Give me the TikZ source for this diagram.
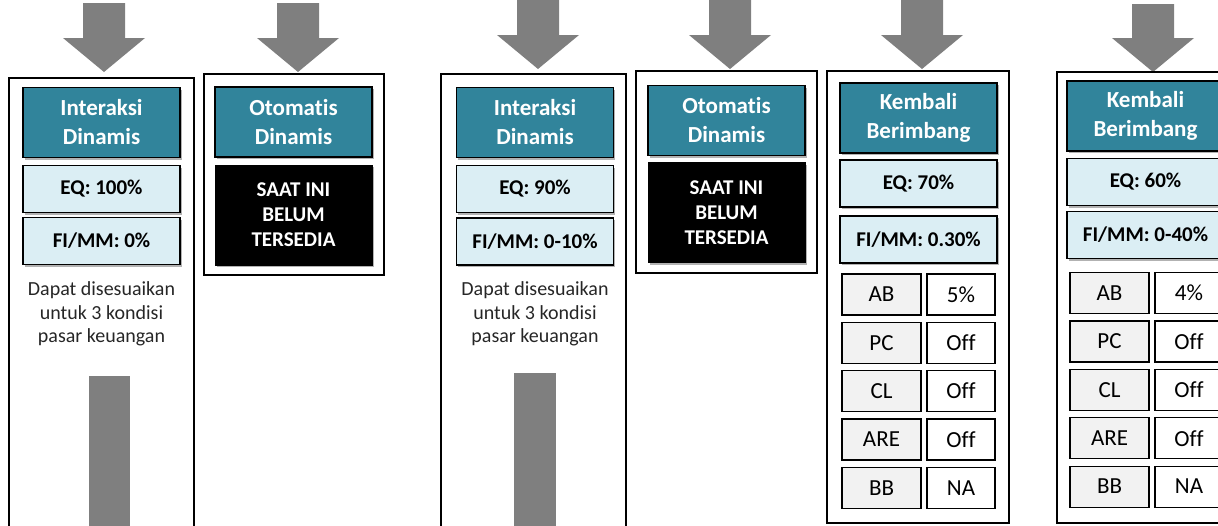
\documentclass[tikz,border=0pt]{standalone}
\usepackage{fontspec}
\setmainfont{Carlito}[Ligatures=NoCommon]
\usetikzlibrary{shadows}
\definecolor{headteal}{HTML}{31849B}
\definecolor{paleblue}{HTML}{DBEEF4}
\definecolor{cellgray}{HTML}{F2F2F2}
\definecolor{arrowgray}{HTML}{7F7F7F}

\begin{document}
\begin{tikzpicture}[x=1pt,y=-1pt,
  panel/.style={draw=black,line width=1.1pt},
  boxshadow/.style={drop shadow={shadow xshift=1.5pt,shadow yshift=-2pt,opacity=0.3,fill=black}},
  title/.style={draw=black,line width=1.5pt,fill=headteal,text=white,align=center,
    font=\fontsize{23}{29}\selectfont\bfseries,minimum width=157pt,minimum height=70pt,inner sep=0pt,boxshadow},
  share/.style={draw=black,line width=1.5pt,fill=paleblue,
    font=\fontsize{21}{25}\selectfont\bfseries,minimum width=157pt,minimum height=47pt,inner sep=0pt,boxshadow},
  notyet/.style={draw=black,fill=black,text=white,align=center,
    font=\fontsize{21}{25}\selectfont\bfseries,minimum width=157pt,minimum height=100pt,inner sep=0pt,boxshadow},
  note/.style={font=\fontsize{20}{23.5}\selectfont,text=black!85,align=center},
  key/.style={draw=black,line width=1.2pt,fill=cellgray,font=\fontsize{23}{27}\selectfont,
    minimum width=79pt,minimum height=41pt,inner sep=0pt},
  val/.style={key,fill=white,minimum width=68pt}]

\useasboundingbox (0,0) rectangle (1218,525);
\clip (0,0) rectangle (1218,525);

% arrows on top
\foreach \cx/\tip/\top in {104/72/3, 298/72/3, 538/69/-5, 730/69/-5, 922/69/-5, 1153/72/4}
  \fill[arrowgray] (\cx-21,\top) -- (\cx+21,\top) -- (\cx+21,\tip-34) -- (\cx+41,\tip-34)
    -- (\cx,\tip) -- (\cx-41,\tip-34) -- (\cx-21,\tip-34) -- cycle;

% panels
\draw[panel] (9,78) rectangle (194,540);
\draw[panel] (204,74) rectangle (384,275);
\draw[panel] (441,74) rectangle (626,540);
\draw[panel] (636,71) rectangle (817,273);
\draw[panel] (827,71) rectangle (1009,523);
\draw[panel] (1057,72) rectangle (1240,523);

% column 1
\node[title] (t1) at (101.5,122.5) {Interaksi\\Dinamis};
\node[share] (eq1) at (101.5,189) {EQ: 100\%};
\node[share] (fi1) at (101.5,241) {FI/MM: 0\%};
\node[note] (n1) at (101.5,314) {Dapat disesuaikan\\untuk 3 kondisi\\pasar keuangan};
\fill[arrowgray] (89,376) rectangle (130,540);

% column 2
\node[title] (t2) at (293.5,122) {Otomatis\\Dinamis};
\node[notyet] (b2) at (293.5,215) {SAAT INI\\BELUM\\TERSEDIA};

% column 3
\node[title] (t3) at (535,122.5) {Interaksi\\Dinamis};
\node[share] (eq3) at (535,189) {EQ: 90\%};
\node[share] (fi3) at (535,241.5) {FI/MM: 0-10\%};
\node[note] (n3) at (535,314) {Dapat disesuaikan\\untuk 3 kondisi\\pasar keuangan};
\fill[arrowgray] (514,373) rectangle (556,540);

% column 4
\node[title] (t4) at (726.5,120.5) {Otomatis\\Dinamis};
\node[notyet] (b4) at (726.5,212.5) {SAAT INI\\BELUM\\TERSEDIA};

% column 5
\node[title] (t5) at (918.5,118) {Kembali\\Berimbang};
\node[share] (eq5) at (918.5,183.5) {EQ: 70\%};
\node[share] (fi5) at (918.5,239.5) {FI/MM: 0.30\%};
\foreach \k/\v [count=\i] in {AB/5\%, PC/Off, CL/Off, ARE/Off, BB/NA} {
  \node[key] (k5\i) at (881.5,{294.5+48.3*(\i-1)}) {\k};
  \node[val] (v5\i) at (961,{294.5+48.3*(\i-1)}) {\v};
}

% column 6
\node[title] (t6) at (1145.5,116) {Kembali\\Berimbang};
\node[share] (eq6) at (1145.5,182) {EQ: 60\%};
\node[share] (fi6) at (1145.5,235) {FI/MM: 0-40\%};
\foreach \k/\v [count=\i] in {AB/4\%, PC/Off, CL/Off, ARE/Off, BB/NA} {
  \node[key] (k6\i) at (1109.5,{293+48.4*(\i-1)}) {\k};
  \node[val] (v6\i) at (1189,{293+48.4*(\i-1)}) {\v};
}

\end{tikzpicture}
\end{document}
